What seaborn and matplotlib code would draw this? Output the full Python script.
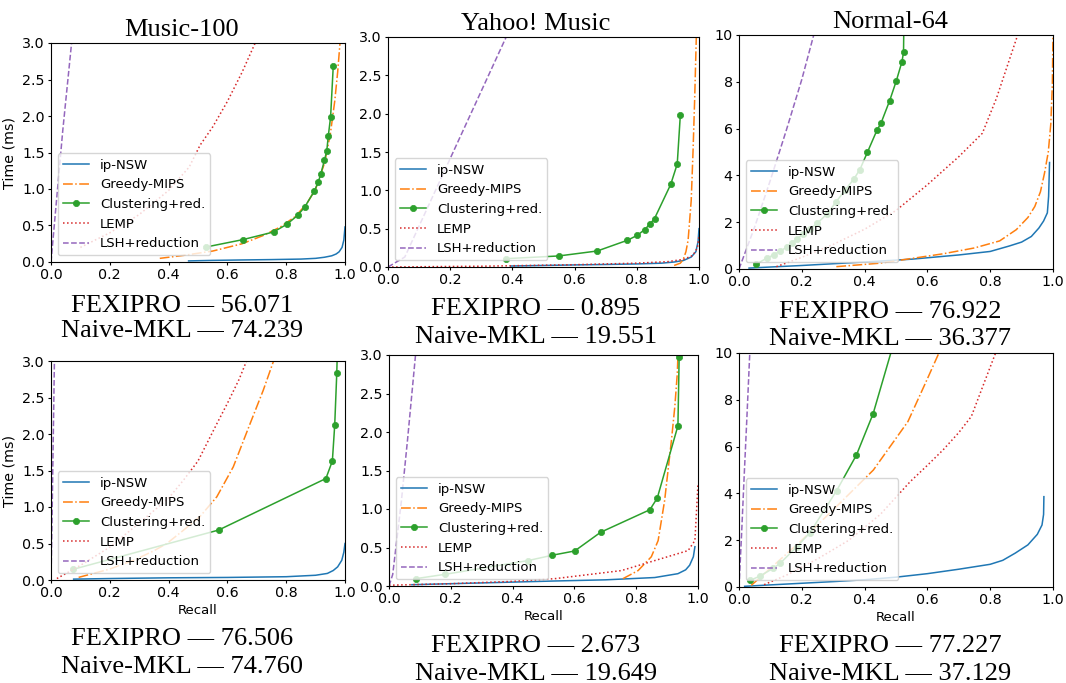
import matplotlib
matplotlib.use("Agg")
import matplotlib.pyplot as plt
import seaborn as sns

# ---------------- data ----------------
methods = ["ip-NSW", "Greedy-MIPS", "Clustering+red.", "LEMP", "LSH+reduction"]
titles = ["Music-100", "Yahoo! Music", "Normal-64"]
fexipro = ["56.071", "0.895", "76.922", "76.506", "2.673", "77.227"]
naive_mkl = ["74.239", "19.551", "36.377", "74.760", "19.649", "37.129"]
x_ticks = [0.0, 0.2, 0.4, 0.6, 0.8, 1.0]
y_max = [3.0, 3.0, 10.0, 3.0, 3.0, 10.0]

# Panel 1: Music-100 (top)
p1_ipnsw_x = [0.468, 0.55, 0.65, 0.75, 0.85, 0.9, 0.93, 0.955, 0.97, 0.98, 0.99, 0.996, 1.0]
p1_ipnsw_y = [0.015, 0.022, 0.028, 0.033, 0.04, 0.05, 0.065, 0.085, 0.11, 0.14, 0.2, 0.3, 0.48]
p1_greedy_x = [0.37, 0.45, 0.55, 0.65, 0.72, 0.78, 0.83, 0.87, 0.90, 0.93, 0.95, 0.965, 0.975, 0.985]
p1_greedy_y = [0.05, 0.09, 0.15, 0.25, 0.36, 0.48, 0.62, 0.80, 1.00, 1.35, 1.75, 2.2, 2.6, 3.1]
p1_clus_x = [0.527, 0.652, 0.757, 0.802, 0.839, 0.863, 0.896, 0.909, 0.918, 0.930, 0.938, 0.943, 0.951, 0.960]
p1_clus_y = [0.205, 0.306, 0.411, 0.516, 0.639, 0.753, 0.973, 1.096, 1.210, 1.393, 1.521, 1.721, 1.986, 2.680]
p1_lemp_x = [0.10, 0.15, 0.2, 0.3, 0.4, 0.47, 0.507, 0.55, 0.6, 0.65, 0.70]
p1_lemp_y = [0.2, 0.3, 0.4, 0.65, 0.98, 1.3, 1.6, 1.85, 2.2, 2.6, 3.05]
p1_lsh_x = [0.0, 0.02, 0.04, 0.06, 0.075]
p1_lsh_y = [0.0, 0.9, 1.8, 2.6, 3.2]

# Panel 2: Yahoo! Music (top)
p2_ipnsw_x = [0.394, 0.5, 0.6, 0.7, 0.8, 0.88, 0.92, 0.95, 0.975, 0.99, 0.997, 1.0]
p2_ipnsw_y = [0.013, 0.02, 0.027, 0.033, 0.04, 0.05, 0.065, 0.085, 0.13, 0.2, 0.33, 0.5]
p2_greedy_x = [0.92, 0.94, 0.949, 0.958, 0.965, 0.975, 0.981, 0.986, 0.992]
p2_greedy_y = [0.02, 0.05, 0.096, 0.2, 0.35, 0.87, 1.53, 2.18, 3.1]
p2_clus_x = [0.380, 0.549, 0.673, 0.770, 0.802, 0.825, 0.842, 0.857, 0.909, 0.930, 0.940]
p2_clus_y = [0.109, 0.144, 0.209, 0.349, 0.414, 0.488, 0.558, 0.632, 1.077, 1.343, 1.984]
p2_lemp_x = [0.0, 0.3, 0.6, 0.8, 0.9, 0.95, 0.98, 0.995, 1.0]
p2_lemp_y = [0.0, 0.01, 0.03, 0.05, 0.07, 0.1, 0.15, 0.25, 0.4]
p2_lsh_x = [0.0, 0.054, 0.38, 0.40]
p2_lsh_y = [0.0, 0.13, 3.0, 3.18]

# Panel 3: Normal-64 (top)
p3_ipnsw_x = [0.032, 0.2, 0.4, 0.55, 0.7, 0.8, 0.86, 0.9, 0.931, 0.955, 0.97, 0.982, 0.986, 0.989]
p3_ipnsw_y = [0.04, 0.15, 0.3, 0.42, 0.6, 0.75, 0.98, 1.15, 1.39, 1.75, 2.05, 2.4, 3.1, 4.55]
p3_greedy_x = [0.31, 0.45, 0.55, 0.65, 0.75, 0.83, 0.883, 0.92, 0.942, 0.96, 0.973, 0.985, 0.993, 0.998, 1.0]
p3_greedy_y = [0.1, 0.25, 0.45, 0.65, 0.9, 1.2, 1.68, 2.2, 2.67, 3.3, 4.1, 5.0, 6.2, 7.9, 10.2]
p3_clus_x = [0.055, 0.088, 0.11, 0.131, 0.152, 0.168, 0.184, 0.205, 0.226, 0.249, 0.28, 0.31,
             0.338, 0.365, 0.385, 0.409, 0.439, 0.453, 0.480, 0.501, 0.519, 0.524, 0.525]
p3_clus_y = [0.21, 0.46, 0.6, 0.77, 0.93, 1.1, 1.28, 1.5, 1.7, 1.95, 2.35, 2.88,
             3.38, 3.83, 4.25, 4.99, 5.92, 6.26, 7.2, 8.04, 8.86, 9.26, 10.5]
p3_lemp_x = [0.119, 0.2, 0.3, 0.4, 0.5, 0.6, 0.7, 0.775, 0.82, 0.86, 0.89]
p3_lemp_y = [0.1, 0.5, 1.05, 1.7, 2.5, 3.6, 4.8, 5.8, 7.3, 8.9, 10.1]
p3_lsh_x = [0.0, 0.05, 0.1, 0.15, 0.2, 0.24]
p3_lsh_y = [0.0, 1.8, 3.8, 5.9, 8.1, 10.1]

# Panel 4: Music-100 (bottom)
p4_ipnsw_x = [0.077, 0.2, 0.4, 0.6, 0.8, 0.9, 0.94, 0.96, 0.975, 0.989, 0.996, 1.0]
p4_ipnsw_y = [0.012, 0.02, 0.03, 0.035, 0.045, 0.065, 0.09, 0.13, 0.18, 0.27, 0.38, 0.5]
p4_greedy_x = [0.094, 0.2, 0.281, 0.35, 0.394, 0.45, 0.507, 0.564, 0.62, 0.677, 0.722, 0.757]
p4_greedy_y = [0.036, 0.15, 0.27, 0.4, 0.5, 0.68, 0.87, 1.14, 1.55, 2.14, 2.6, 3.0]
p4_clus_x = [0.075, 0.570, 0.935, 0.957, 0.965, 0.972, 0.975]
p4_clus_y = [0.146, 0.684, 1.39, 1.63, 2.12, 2.83, 3.3]
p4_lemp_x = [0.02, 0.1, 0.2, 0.3, 0.4, 0.451, 0.5, 0.564, 0.6, 0.64, 0.67]
p4_lemp_y = [0.02, 0.2, 0.45, 0.78, 1.12, 1.37, 1.63, 2.14, 2.42, 2.75, 3.05]
p4_lsh_x = [0.0, 0.003, 0.006, 0.009, 0.012]
p4_lsh_y = [0.0, 0.7, 1.5, 2.3, 3.1]

# Panel 5: Yahoo! Music (bottom)
p5_ipnsw_x = [0.074, 0.3, 0.536, 0.7, 0.86, 0.935, 0.96, 0.973, 0.985, 0.99]
p5_ipnsw_y = [0.017, 0.04, 0.065, 0.08, 0.11, 0.16, 0.21, 0.27, 0.38, 0.51]
p5_greedy_x = [0.757, 0.806, 0.849, 0.871, 0.892, 0.914, 0.925, 0.933, 0.936]
p5_greedy_y = [0.095, 0.2, 0.38, 0.59, 1.11, 1.89, 2.33, 2.76, 3.1]
p5_clus_x = [0.086, 0.182, 0.45, 0.529, 0.601, 0.685, 0.844, 0.868, 0.935, 0.939]
p5_clus_y = [0.095, 0.152, 0.33, 0.40, 0.455, 0.698, 0.99, 1.14, 2.08, 2.97]
p5_lemp_x = [0.0, 0.2, 0.4, 0.536, 0.752, 0.86, 0.968, 0.99, 1.0]
p5_lemp_y = [0.01, 0.03, 0.06, 0.095, 0.2, 0.33, 0.46, 0.59, 1.33]
p5_lsh_x = [0.0, 0.012, 0.04, 0.06, 0.087]
p5_lsh_y = [0.0, 0.15, 1.1, 1.9, 3.05]

# Panel 6: Normal-64 (bottom)
p6_ipnsw_x = [0.018, 0.1, 0.2, 0.3, 0.4, 0.5, 0.6, 0.7, 0.8, 0.84, 0.88, 0.92, 0.95, 0.965, 0.97, 0.971]
p6_ipnsw_y = [0.03, 0.09, 0.16, 0.23, 0.31, 0.42, 0.57, 0.76, 0.97, 1.14, 1.45, 1.8, 2.25, 2.65, 3.1, 3.86]
p6_greedy_x = [0.039, 0.1, 0.2, 0.3, 0.428, 0.538, 0.6, 0.64]
p6_greedy_y = [0.07, 0.8, 2.0, 3.3, 5.0, 7.07, 8.9, 10.1]
p6_clus_x = [0.035, 0.067, 0.109, 0.131, 0.184, 0.226, 0.311, 0.374, 0.427, 0.49]
p6_clus_y = [0.28, 0.47, 0.8, 1.01, 1.72, 2.32, 4.12, 5.64, 7.4, 10.3]
p6_lemp_x = [0.08, 0.15, 0.25, 0.35, 0.45, 0.545, 0.6, 0.65, 0.7, 0.74, 0.78, 0.82]
p6_lemp_y = [0.1, 0.5, 1.2, 2.0, 3.1, 4.5, 5.2, 5.86, 6.6, 7.29, 8.7, 10.1]
p6_lsh_x = [0.0, 0.008, 0.016, 0.025, 0.035]
p6_lsh_y = [0.0, 2.2, 4.6, 7.2, 10.2]

panels = [
    [(p1_ipnsw_x, p1_ipnsw_y), (p1_greedy_x, p1_greedy_y), (p1_clus_x, p1_clus_y), (p1_lemp_x, p1_lemp_y), (p1_lsh_x, p1_lsh_y)],
    [(p2_ipnsw_x, p2_ipnsw_y), (p2_greedy_x, p2_greedy_y), (p2_clus_x, p2_clus_y), (p2_lemp_x, p2_lemp_y), (p2_lsh_x, p2_lsh_y)],
    [(p3_ipnsw_x, p3_ipnsw_y), (p3_greedy_x, p3_greedy_y), (p3_clus_x, p3_clus_y), (p3_lemp_x, p3_lemp_y), (p3_lsh_x, p3_lsh_y)],
    [(p4_ipnsw_x, p4_ipnsw_y), (p4_greedy_x, p4_greedy_y), (p4_clus_x, p4_clus_y), (p4_lemp_x, p4_lemp_y), (p4_lsh_x, p4_lsh_y)],
    [(p5_ipnsw_x, p5_ipnsw_y), (p5_greedy_x, p5_greedy_y), (p5_clus_x, p5_clus_y), (p5_lemp_x, p5_lemp_y), (p5_lsh_x, p5_lsh_y)],
    [(p6_ipnsw_x, p6_ipnsw_y), (p6_greedy_x, p6_greedy_y), (p6_clus_x, p6_clus_y), (p6_lemp_x, p6_lemp_y), (p6_lsh_x, p6_lsh_y)],
]

# ---------------- styles / layout ----------------
W, H = 1066, 683
colors = ["#1f77b4", "#ff7f0e", "#2ca02c", "#d62728", "#9467bd"]
styles = ["-", "-.", "-", ":", "--"]
markers = [None, None, "o", None, None]
# axes boxes in pixels: left, top, right, bottom
boxes = [(51, 43, 345, 262), (388, 37, 699, 267), (739, 35, 1053, 269),
         (51, 361, 345, 580), (389, 355, 698, 586), (739, 353, 1053, 587)]
centers = [182, 536, 890, 182, 536, 890]
title_base = [36, 30, 28]
cap_base = [(312, 337), (315, 343), (318, 345), (645, 673), (652, 680), (652, 680)]

serif = ["Liberation Serif", "DejaVu Serif"]
fig = plt.figure(figsize=(W / 100, H / 100), dpi=100)

for i in range(6):
    l, t, r, b = boxes[i]
    ax = fig.add_axes([l / W, 1 - b / H, (r - l) / W, (b - t) / H])
    for k in range(5):
        xs, ys = panels[i][k]
        kw = {}
        if markers[k]:
            kw = dict(marker="o", markersize=4.5, markeredgecolor=colors[k],
                      markerfacecolor=colors[k], markeredgewidth=0.5)
        sns.lineplot(x=xs, y=ys, ax=ax, color=colors[k], linestyle=styles[k],
                     linewidth=1.1, sort=False, estimator=None, label=methods[k], **kw)
    ax.set_xlim(0, 1)
    ax.set_ylim(0, y_max[i])
    ax.set_xticks(x_ticks)
    ax.tick_params(labelsize=10.3, length=2.5, width=0.8, pad=2)
    if y_max[i] == 3.0:
        ax.set_yticks([0, 0.5, 1.0, 1.5, 2.0, 2.5, 3.0])
        ax.set_yticklabels(["0.0", "0.5", "1.0", "1.5", "2.0", "2.5", "3.0"])
    else:
        ax.set_yticks([0, 2, 4, 6, 8, 10])
    for s in ax.spines.values():
        s.set_color("black")
        s.set_linewidth(0.8)
    ax.set_xlabel("Recall" if i >= 3 else "", fontsize=9.5, labelpad=3)
    ax.set_ylabel("Time (ms)" if i in (0, 3) else "", fontsize=10.3, labelpad=4)
    ax.legend(loc="lower left", fontsize=9.5, framealpha=0.8, handlelength=2.0)
    if i < 3:
        fig.text(centers[i] / W, 1 - title_base[i] / H, titles[i], ha="center",
                 va="baseline", fontsize=19, family=serif)
    fig.text(centers[i] / W, 1 - cap_base[i][0] / H, "FEXIPRO \u2014 " + fexipro[i],
             ha="center", va="baseline", fontsize=19, family=serif)
    fig.text(centers[i] / W, 1 - cap_base[i][1] / H, "Naive-MKL \u2014 " + naive_mkl[i],
             ha="center", va="baseline", fontsize=19, family=serif)

fig.savefig("out.png", dpi=100)
